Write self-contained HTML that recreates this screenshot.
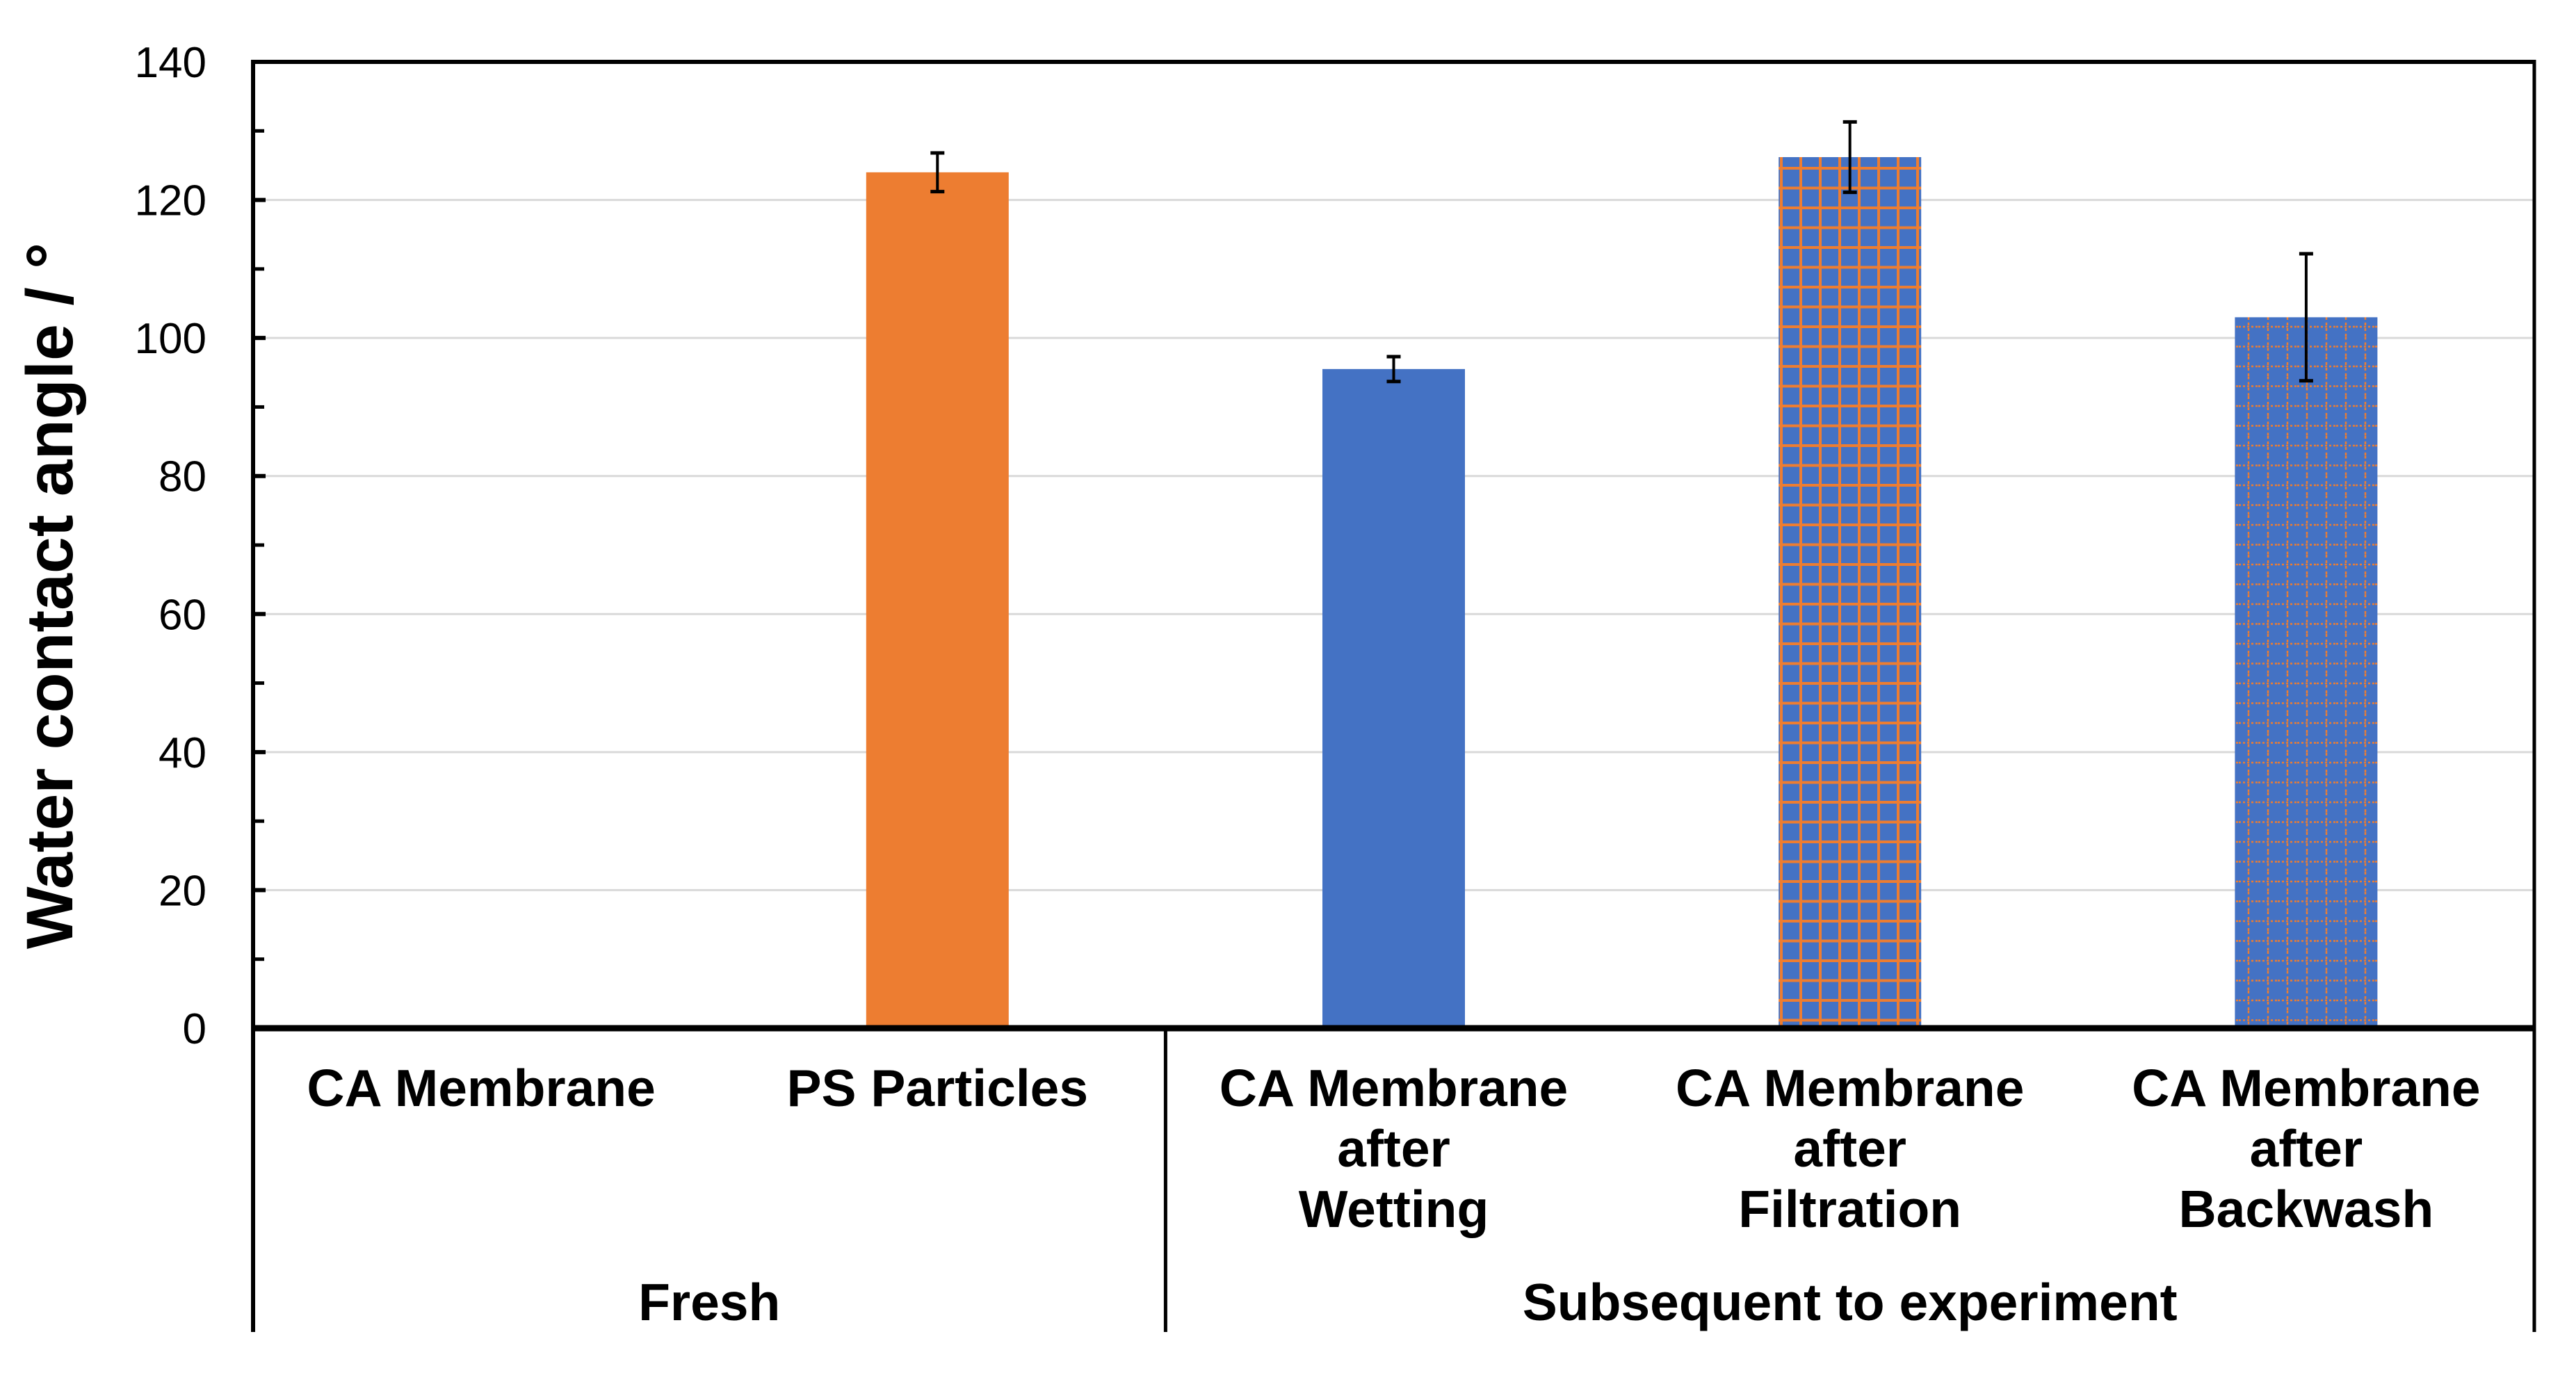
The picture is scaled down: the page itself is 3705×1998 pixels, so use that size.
<!DOCTYPE html>
<html><head><meta charset="utf-8">
<style>
html,body{margin:0;padding:0;background:#fff;}
svg{display:block;font-family:"Liberation Sans",Arial,sans-serif;}
</style></head>
<body>
<svg id="chart" width="3705" height="1998" viewBox="0 0 3705 1998" xmlns="http://www.w3.org/2000/svg">
<defs>
<pattern id="gridHatch" patternUnits="userSpaceOnUse" width="28" height="28.5" x="0" y="0">
<rect width="28" height="28.5" fill="#4472C4"/>
<rect x="12" y="0" width="4" height="28.5" fill="#ED7D31"/>
<rect x="0" y="12" width="28" height="4" fill="#ED7D31"/>
</pattern>
<pattern id="dashHatch" patternUnits="userSpaceOnUse" width="28" height="28.5" x="0" y="0">
<rect width="28" height="28.5" fill="#4472C4"/>
<line x1="14" y1="0" x2="14" y2="28.5" stroke="#ED7D31" stroke-width="2.5" stroke-dasharray="4,4"/>
<line x1="0" y1="14" x2="28" y2="14" stroke="#ED7D31" stroke-width="2.5" stroke-dasharray="3,3"/>
</pattern>
</defs>
<g id="grid"></g>
<g id="bars"></g>
<g id="errs"></g>
<g id="axes"></g>
<g id="labels"></g>
<text transform="translate(104,857) rotate(-90)" text-anchor="middle" font-size="95" font-weight="bold" fill="#000">Water contact angle / °</text>
</svg>
<script>
const categories = [["CA Membrane"],["PS Particles"],["CA Membrane","after","Wetting"],["CA Membrane","after","Filtration"],["CA Membrane","after","Backwash"]];
const values = [0.2, 124, 95.5, 126.2, 103];
const errors = [0, 2.8, 1.8, 5.1, 9.2];
const fills = ["#ED7D31","#ED7D31","#4472C4","url(#gridHatch)","url(#dashHatch)"];
const groups = ["Fresh","Subsequent to experiment"];
const groupSpans = [[0,2],[2,5]];
const yTicks = [0,20,40,60,80,100,120,140];

const NS="http://www.w3.org/2000/svg";
const L=364,R=3645,T=89,B=1479,YMAX=140;
const bandW=(R-L)/categories.length, barW=205;
const y=v=>B-(v/YMAX)*(B-T);
const xc=i=>L+bandW*(i+0.5);
function mk(tag,attrs,parent){const e=document.createElementNS(NS,tag);for(const k in attrs)e.setAttribute(k,attrs[k]);parent.appendChild(e);return e;}
const grid=document.getElementById('grid'),bars=document.getElementById('bars'),errs=document.getElementById('errs'),axes=document.getElementById('axes'),labels=document.getElementById('labels');

yTicks.forEach(t=>{
  if(t>0&&t<YMAX){const g=mk('line',{x1:L,x2:R,y1:y(t),y2:y(t),stroke:'#d9d9d9','stroke-width':3},grid);
  
  }
  const tl=mk('text',{x:297,y:y(t)+22,'text-anchor':'end','font-size':62,fill:'#000'},labels);
  tl.textContent=t;
  
  
  const tk=mk('line',{x1:L,x2:L+18,y1:y(t),y2:y(t),stroke:'#000','stroke-width':6},axes);
  
  
  if(t<YMAX){const m=mk('line',{x1:L,x2:L+16,y1:y(t+10),y2:y(t+10),stroke:'#000','stroke-width':5},axes);
  
  }
});

values.forEach((v,i)=>{
  const r=mk('rect',{x:xc(i)-barW/2,y:y(v),width:barW,height:B-y(v),fill:fills[i]},bars);
  
  
  if(errors[i]>0){
    const g=mk('g',{},errs);
    
    
    const hi=y(v+errors[i]),lo=y(v-errors[i]);
    mk('line',{x1:xc(i),x2:xc(i),y1:hi,y2:lo,stroke:'#000','stroke-width':4},g);
    mk('line',{x1:xc(i)-10,x2:xc(i)+10,y1:hi,y2:hi,stroke:'#000','stroke-width':5},g);
    mk('line',{x1:xc(i)-10,x2:xc(i)+10,y1:lo,y2:lo,stroke:'#000','stroke-width':5},g);
  }
  categories[i].forEach((ln,j)=>{
    const t=mk('text',{x:xc(i),y:1591+j*87,'text-anchor':'middle','font-size':75,'font-weight':'bold',fill:'#000'},labels);
    t.textContent=ln;
    
    
  });
});

groups.forEach((gname,k)=>{
  const [a,b]=groupSpans[k];
  const t=mk('text',{x:(L+bandW*a+L+bandW*b)/2,y:1899,'text-anchor':'middle','font-size':75,'font-weight':'bold',fill:'#000'},labels);
  t.textContent=gname;
  
  
});

const ax=[[L,T-3,L,1916,6],[R,T-3,R,1916,5],[L-3,T,R+2,T,6],[L,B,R,B,9],[L+bandW*2,B,L+bandW*2,1916,5]];
ax.forEach(a=>{const l=mk('line',{x1:a[0],y1:a[1],x2:a[2],y2:a[3],stroke:'#000','stroke-width':a[4]},axes);
  
  });
</script>
</body></html>
